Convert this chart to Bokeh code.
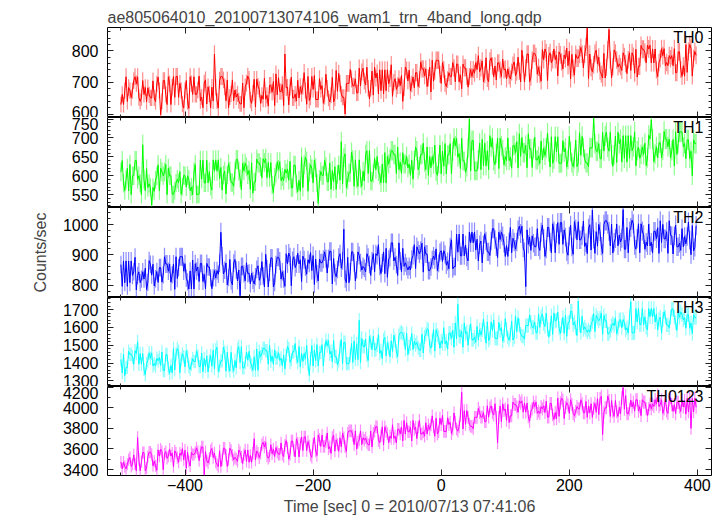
import numpy as np
from bokeh.plotting import figure
from bokeh.layouts import column
from bokeh.models import Range1d, SingleIntervalTicker, LinearAxis, Label, CustomJSTickFormatter
from bokeh.embed import file_html
from bokeh.resources import INLINE

title_text = "ae805064010_20100713074106_wam1_trn_4band_long.qdp"
x_label = "Time [sec] 0 = 2010/07/13 07:41:06"
y_label = "Counts/sec"

# time bins (sec), 2 s step
t_start, t_step, n_bins = -500, 2, 450
time = [t_start + t_step * i for i in range(n_bins)]

TH0 = [
 630, 662, 630, 674, 718, 640, 684, 674, 652, 674,
 706, 718, 696, 718, 652, 640, 652, 706, 662, 684,
 639, 683, 661, 651, 651, 705, 651, 639, 695, 717,
 674, 598, 640, 706, 706, 662, 630, 718, 696, 630,
 685, 719, 653, 719, 719, 653, 697, 675, 631, 619,
 674, 706, 640, 618, 718, 696, 662, 718, 662, 662,
 676, 720, 642, 654, 620, 698, 708, 632, 686, 664,
 619, 685, 641, 790, 685, 641, 619, 707, 719, 719,
 708, 686, 642, 708, 620, 654, 664, 708, 642, 676,
 654, 664, 642, 632, 632, 698, 620, 686, 698, 720,
 710, 644, 634, 666, 710, 622, 710, 688, 678, 634,
 659, 647, 713, 647, 659, 625, 691, 691, 669, 703,
 627, 727, 661, 715, 671, 671, 693, 627, 790, 683,
 685, 629, 685, 717, 651, 651, 663, 641, 707, 651,
 687, 665, 687, 731, 675, 631, 719, 643, 653, 719,
 678, 722, 646, 646, 646, 712, 678, 690, 634, 656,
 726, 682, 650, 638, 660, 716, 638, 650, 738, 672,
 729, 697, 663, 653, 653, 600, 697, 697, 697, 741,
 711, 689, 689, 711, 667, 667, 745, 689, 733, 745,
 704, 692, 748, 682, 648, 682, 736, 660, 748, 714,
 730, 664, 740, 674, 740, 664, 740, 674, 740, 696,
 712, 756, 656, 700, 712, 678, 690, 712, 690, 722,
 640, 683, 749, 739, 705, 739, 673, 695, 717, 683,
 731, 731, 687, 709, 765, 743, 743, 721, 743, 687,
 714, 748, 670, 770, 704, 736, 770, 770, 770, 726,
 697, 763, 741, 697, 687, 709, 731, 719, 719, 763,
 746, 702, 758, 758, 702, 724, 680, 758, 746, 746,
 719, 685, 719, 741, 719, 741, 729, 763, 741, 785,
 734, 746, 768, 702, 724, 778, 712, 702, 768, 778,
 752, 718, 752, 708, 762, 762, 740, 718, 774, 740,
 743, 711, 743, 721, 711, 733, 755, 765, 721, 733,
 780, 736, 702, 802, 758, 702, 746, 790, 790, 702,
 716, 770, 792, 792, 782, 726, 748, 726, 704, 804,
 772, 806, 794, 706, 784, 794, 762, 772, 806, 772,
 787, 721, 797, 787, 765, 743, 787, 775, 809, 753,
 799, 711, 789, 745, 723, 789, 777, 777, 789, 811,
 790, 746, 790, 812, 872, 712, 790, 746, 734, 756,
 792, 802, 758, 780, 736, 726, 714, 792, 714, 748,
 803, 868, 771, 715, 749, 803, 793, 771, 749, 759,
 750, 738, 794, 782, 760, 728, 772, 794, 738, 794,
 783, 729, 805, 717, 751, 751, 817, 805, 805, 795,
 762, 818, 806, 818, 762, 806, 762, 806, 740, 718,
 763, 775, 807, 785, 807, 753, 763, 753, 785, 775,
 785, 753, 807, 731, 731, 797, 797, 741, 719, 753,
 720, 820, 732, 798, 820, 808, 720, 776, 798, 786,
]

TH1 = [
 610, 640, 580, 560, 590, 620, 560, 630, 550, 600,
 600, 640, 640, 590, 600, 580, 550, 682, 590, 560,
 619, 569, 579, 569, 522, 569, 559, 589, 599, 629,
 560, 620, 610, 600, 610, 630, 550, 620, 600, 600,
 551, 551, 561, 581, 591, 581, 611, 551, 571, 601,
 600, 570, 600, 590, 560, 570, 550, 610, 630, 550,
 551, 551, 641, 591, 641, 581, 581, 641, 581, 611,
 572, 562, 642, 612, 642, 612, 642, 592, 622, 562,
 602, 612, 552, 602, 632, 612, 582, 582, 572, 612,
 643, 643, 613, 593, 563, 633, 613, 633, 623, 603,
 614, 564, 634, 554, 584, 584, 644, 634, 634, 624,
 595, 645, 635, 645, 595, 635, 595, 635, 575, 555,
 597, 607, 637, 617, 637, 587, 597, 587, 617, 607,
 618, 588, 638, 568, 568, 628, 628, 578, 558, 588,
 559, 649, 569, 629, 649, 639, 559, 609, 629, 619,
 581, 641, 621, 581, 527, 591, 611, 601, 601, 641,
 624, 584, 584, 634, 564, 614, 584, 624, 564, 604,
 628, 588, 690, 578, 648, 658, 568, 588, 608, 608,
 662, 642, 572, 642, 592, 572, 642, 592, 572, 612,
 586, 656, 666, 606, 666, 586, 586, 606, 646, 616,
 651, 611, 601, 581, 631, 581, 661, 581, 651, 631,
 646, 666, 666, 656, 656, 606, 676, 616, 636, 606,
 661, 631, 631, 651, 621, 631, 601, 641, 591, 641,
 676, 666, 616, 626, 656, 656, 686, 636, 616, 676,
 601, 651, 621, 651, 631, 681, 611, 601, 631, 681,
 605, 665, 625, 685, 605, 655, 655, 685, 605, 665,
 699, 679, 699, 649, 659, 619, 699, 639, 639, 609,
 623, 673, 750, 613, 693, 693, 613, 613, 613, 643,
 686, 616, 696, 626, 686, 626, 666, 616, 706, 676,
 699, 639, 629, 659, 699, 619, 699, 679, 669, 629,
 650, 640, 700, 640, 650, 620, 680, 680, 660, 690,
 621, 711, 651, 701, 661, 661, 681, 621, 711, 671,
 672, 622, 672, 702, 642, 642, 652, 632, 692, 642,
 673, 653, 673, 713, 663, 623, 703, 633, 643, 703,
 663, 703, 633, 633, 633, 693, 663, 673, 623, 643,
 704, 664, 634, 624, 644, 694, 624, 634, 714, 654,
 704, 674, 644, 634, 634, 624, 674, 674, 674, 752,
 685, 665, 665, 685, 645, 645, 715, 665, 705, 715,
 675, 665, 715, 655, 625, 655, 705, 635, 715, 685,
 696, 636, 706, 646, 706, 636, 706, 646, 706, 666,
 676, 716, 626, 666, 676, 646, 656, 676, 656, 686,
 627, 647, 707, 697, 748, 697, 637, 657, 677, 647,
 687, 687, 647, 667, 717, 697, 697, 677, 697, 647,
 666, 696, 626, 716, 656, 686, 716, 716, 716, 676,
 685, 645, 695, 695, 645, 665, 600, 695, 685, 685,
]

TH2 = [
 868, 796, 880, 808, 880, 796, 880, 808, 880, 832,
 844, 892, 784, 832, 844, 808, 820, 844, 820, 856,
 785, 809, 881, 869, 833, 869, 797, 821, 845, 809,
 858, 858, 810, 834, 894, 870, 870, 846, 870, 810,
 834, 870, 786, 894, 822, 858, 894, 894, 894, 846,
 871, 823, 811, 787, 847, 787, 883, 787, 871, 847,
 860, 812, 872, 872, 812, 836, 788, 872, 860, 860,
 824, 788, 824, 848, 824, 848, 836, 872, 975, 896,
 837, 849, 873, 801, 825, 885, 813, 801, 873, 885,
 850, 814, 850, 765, 862, 862, 838, 814, 874, 838,
 840, 804, 840, 816, 804, 828, 852, 864, 816, 828,
 878, 830, 794, 902, 854, 794, 842, 890, 890, 794,
 808, 868, 892, 892, 880, 820, 844, 820, 796, 904,
 870, 906, 894, 798, 882, 894, 858, 870, 906, 870,
 884, 812, 896, 884, 860, 836, 884, 872, 908, 848,
 898, 802, 886, 838, 814, 886, 874, 874, 886, 910,
 888, 840, 888, 912, 912, 804, 888, 840, 828, 852,
 892, 904, 856, 880, 985, 820, 808, 892, 808, 844,
 910, 910, 874, 814, 850, 910, 898, 874, 850, 862,
 856, 844, 904, 892, 868, 832, 880, 904, 844, 904,
 898, 934, 862, 838, 874, 910, 838, 922, 826, 886,
 892, 940, 940, 880, 892, 868, 832, 940, 880, 844,
 922, 862, 874, 862, 850, 862, 850, 886, 898, 934,
 855, 927, 915, 903, 915, 939, 843, 927, 903, 903,
 848, 848, 860, 884, 896, 884, 920, 848, 872, 908,
 914, 878, 914, 902, 866, 878, 854, 926, 950, 854,
 861, 861, 969, 909, 969, 897, 897, 969, 897, 933,
 892, 880, 976, 940, 976, 940, 976, 916, 952, 880,
 934, 946, 874, 934, 970, 946, 910, 910, 898, 946,
 987, 987, 951, 927, 891, 975, 951, 975, 963, 939,
 895, 931, 895, 943, 991, 907, 955, 943, 919, 943,
 983, 995, 971, 995, 923, 911, 795, 983, 935, 959,
 915, 963, 939, 927, 927, 987, 927, 915, 975, 999,
 955, 895, 919, 991, 991, 943, 907, 1003, 979, 907,
 971, 1007, 935, 1007, 1007, 935, 983, 959, 911, 899,
 962, 998, 926, 902, 1010, 986, 950, 1010, 950, 950,
 964, 1012, 928, 940, 904, 988, 1000, 916, 1048, 952,
 905, 977, 929, 1001, 977, 929, 905, 1001, 1013, 1013,
 1002, 978, 930, 1002, 906, 942, 954, 1002, 930, 966,
 943, 955, 1050, 919, 919, 991, 907, 979, 991, 1015,
 1003, 931, 919, 955, 1003, 907, 1003, 979, 967, 919,
 942, 930, 1002, 930, 942, 906, 978, 978, 954, 990,
 905, 1013, 941, 1001, 953, 953, 977, 905, 1013, 965,
 963, 903, 963, 999, 927, 927, 939, 915, 987, 927,
 961, 937, 961, 1009, 949, 901, 997, 913, 925, 997,
]

TH3 = [
 1419, 1345, 1449, 1329, 1375, 1375, 1465, 1449, 1449, 1435,
 1393, 1469, 1453, 1520, 1393, 1453, 1393, 1453, 1363, 1333,
 1397, 1413, 1457, 1427, 1457, 1383, 1397, 1383, 1427, 1413,
 1431, 1387, 1461, 1357, 1357, 1447, 1447, 1371, 1341, 1387,
 1345, 1481, 1361, 1451, 1481, 1465, 1345, 1421, 1451, 1435,
 1378, 1468, 1438, 1378, 1364, 1394, 1424, 1408, 1408, 1468,
 1440, 1380, 1380, 1456, 1350, 1426, 1380, 1440, 1350, 1410,
 1442, 1382, 1472, 1368, 1472, 1488, 1352, 1382, 1412, 1412,
 1490, 1460, 1354, 1460, 1384, 1354, 1460, 1384, 1354, 1414,
 1372, 1476, 1492, 1402, 1492, 1372, 1372, 1402, 1462, 1416,
 1465, 1405, 1389, 1359, 1435, 1359, 1479, 1359, 1465, 1435,
 1453, 1483, 1483, 1469, 1469, 1393, 1499, 1409, 1439, 1393,
 1474, 1428, 1428, 1458, 1414, 1428, 1384, 1444, 1368, 1444,
 1493, 1479, 1403, 1419, 1463, 1463, 1509, 1433, 1403, 1493,
 1378, 1454, 1408, 1454, 1424, 1498, 1394, 1330, 1424, 1498,
 1383, 1473, 1413, 1503, 1383, 1459, 1459, 1503, 1383, 1473,
 1526, 1496, 1526, 1450, 1466, 1406, 1526, 1436, 1436, 1390,
 1412, 1486, 1532, 1396, 1516, 1516, 1396, 1396, 1396, 1442,
 1509, 1403, 1523, 1419, 1509, 1419, 1640, 1403, 1539, 1493,
 1490, 1534, 1444, 1414, 1550, 1520, 1474, 1550, 1474, 1474,
 1500, 1560, 1454, 1470, 1424, 1530, 1544, 1440, 1514, 1484,
 1435, 1525, 1465, 1555, 1525, 1465, 1435, 1555, 1571, 1571,
 1566, 1536, 1476, 1566, 1446, 1492, 1506, 1566, 1476, 1522,
 1502, 1516, 1486, 1472, 1472, 1562, 1456, 1546, 1562, 1592,
 1587, 1497, 1483, 1527, 1587, 1467, 1587, 1557, 1543, 1483,
 1524, 1508, 1598, 1508, 1524, 1478, 1568, 1568, 1538, 1584,
 1489, 1625, 1535, 1730, 1549, 1549, 1579, 1489, 1625, 1565,
 1576, 1500, 1576, 1620, 1530, 1530, 1546, 1516, 1606, 1530,
 1587, 1557, 1587, 1647, 1571, 1511, 1631, 1527, 1541, 1631,
 1582, 1642, 1538, 1538, 1538, 1628, 1582, 1598, 1522, 1552,
 1649, 1589, 1545, 1529, 1559, 1635, 1529, 1545, 1665, 1575,
 1654, 1610, 1564, 1550, 1550, 1534, 1610, 1610, 1610, 1670,
 1630, 1600, 1600, 1630, 1570, 1570, 1676, 1600, 1660, 1676,
 1621, 1605, 1681, 1591, 1545, 1591, 1665, 1561, 1681, 1635,
 1640, 1686, 1596, 1566, 1610, 1656, 1566, 1670, 1550, 1626,
 1630, 1690, 1690, 1614, 1630, 1600, 1554, 1748, 1614, 1570,
 1663, 1587, 1603, 1587, 1573, 1587, 1573, 1617, 1633, 1677,
 1577, 1667, 1651, 1637, 1651, 1681, 1561, 1667, 1637, 1637,
 1564, 1564, 1580, 1610, 1624, 1610, 1654, 1564, 1594, 1640,
 1644, 1598, 1644, 1628, 1584, 1598, 1568, 1658, 1745, 1568,
 1570, 1570, 1706, 1630, 1706, 1616, 1616, 1706, 1616, 1660,
 1600, 1586, 1706, 1660, 1706, 1660, 1706, 1630, 1676, 1586,
 1644, 1658, 1568, 1644, 1688, 1658, 1614, 1614, 1598, 1658,
 1703, 1703, 1657, 1627, 1583, 1687, 1657, 1687, 1673, 1643,
 1655, 1595, 1671, 1671, 1595, 1625, 1565, 1671, 1655, 1655,
]

TH0123 = [
 3474, 3408, 3474, 3430, 3408, 3452, 3496, 3518, 3430, 3452,
 3543, 3455, 3389, 3710, 3499, 3389, 3477, 3565, 3565, 3389,
 3415, 3525, 3569, 3569, 3547, 3437, 3481, 3437, 3393, 3591,
 3531, 3597, 3575, 3399, 3553, 3575, 3509, 3531, 3597, 3531,
 3560, 3428, 3582, 3560, 3516, 3472, 3560, 3538, 3604, 3494,
 3589, 3413, 3567, 3479, 3435, 3567, 3545, 3545, 3567, 3611,
 3575, 3487, 3575, 3619, 3619, 3350, 3575, 3487, 3465, 3509,
 3583, 3605, 3517, 3561, 3473, 3451, 3429, 3583, 3429, 3495,
 3607, 3607, 3541, 3431, 3497, 3607, 3585, 3541, 3497, 3519,
 3502, 3480, 3590, 3568, 3524, 3458, 3546, 3590, 3480, 3590,
 3471, 3537, 3471, 3559, 3700, 3493, 3581, 3559, 3515, 3559,
 3642, 3664, 3620, 3664, 3532, 3510, 3532, 3642, 3554, 3598,
 3527, 3615, 3571, 3549, 3549, 3659, 3549, 3527, 3637, 3681,
 3611, 3501, 3545, 3677, 3677, 3589, 3523, 3699, 3655, 3523,
 3651, 3717, 3585, 3717, 3717, 3585, 3673, 3629, 3541, 3519,
 3647, 3713, 3581, 3537, 3735, 3691, 3625, 3735, 3625, 3625,
 3667, 3755, 3601, 3623, 3557, 3711, 3733, 3579, 3689, 3645,
 3577, 3709, 3621, 3753, 3709, 3621, 3577, 3753, 3775, 3775,
 3775, 3731, 3643, 3775, 3599, 3665, 3687, 3775, 3643, 3709,
 3685, 3707, 3663, 3641, 3641, 3773, 3619, 3751, 3773, 3817,
 3815, 3683, 3661, 3727, 3815, 3639, 3815, 3771, 3749, 3661,
 3725, 3703, 3835, 3703, 3725, 3659, 3791, 3791, 3747, 3813,
 3679, 3877, 3745, 3855, 3767, 3767, 3811, 3679, 3877, 3789,
 3811, 3701, 3811, 3877, 3745, 3745, 3767, 3723, 3855, 3745,
 3833, 3789, 3833, 3921, 3811, 3723, 3899, 3745, 3767, 3899,
 3837, 3925, 3771, 3771, 3771, 3903, 3837, 3859, 3749, 3793,
 3949, 3861, 3795, 3773, 3817, 3927, 4150, 3795, 3971, 3839,
 3973, 3907, 3841, 3819, 3819, 3797, 3907, 3907, 3907, 3995,
 3953, 3909, 3909, 3953, 3865, 3865, 4019, 3909, 3997, 4019,
 3951, 3929, 4039, 3907, 3660, 3907, 4017, 3863, 4039, 3973,
 3988, 3878, 4032, 3856, 3922, 3922, 4054, 4032, 4032, 4010,
 3957, 4067, 4045, 4067, 3957, 4045, 3957, 4045, 3913, 3869,
 3967, 3989, 4055, 4011, 4055, 3945, 3967, 3945, 4011, 3989,
 4019, 3953, 4063, 3909, 3909, 4041, 4041, 3931, 3887, 3953,
 3895, 4093, 3917, 4049, 4093, 4071, 3895, 4005, 4049, 4027,
 3945, 4077, 4033, 3945, 3923, 3967, 4011, 3989, 3989, 4077,
 4039, 3951, 3951, 4061, 3907, 4017, 3951, 4039, 3907, 3995,
 4044, 3956, 4088, 3934, 4088, 4110, 3740, 3956, 4000, 4000,
 4114, 4070, 3916, 4070, 3960, 3916, 4070, 3960, 3916, 4004,
 3942, 4096, 4195, 3986, 4118, 3942, 3942, 3986, 4074, 4008,
 4055, 3967, 4077, 4077, 3967, 4011, 3923, 4077, 4055, 4055,
 3991, 3925, 3991, 4035, 3991, 4035, 4013, 4079, 4035, 4123,
 4011, 4033, 4077, 3945, 3989, 4099, 3967, 3945, 4077, 4099,
 4030, 3964, 4030, 3942, 4052, 4052, 4008, 3964, 4074, 4008,
 4070, 3938, 4092, 3960, 4092, 3800, 4092, 3960, 4092, 4004,
]

panel_names = ["TH0", "TH1", "TH2", "TH3", "TH0123"]
panel_values = [TH0, TH1, TH2, TH3, TH0123]
panel_colors = ["#ff0000", "#00ff00", "#0000ff", "#00ffff", "#ff00ff"]
panel_ylims = [(589, 874), (516, 754), (759, 1057), (1268, 1768), (3343, 4206)]
panel_major = [100, 50, 100, 100, 200]
panel_minor = [5, 5, 5, 5, 2]
panel_heights = [90, 90, 90, 89, 89]
x_lims = (-521, 422)

FONT = "Liberation Sans"
FS = "16px"
TICK_COLOR = "#222222"

minus_fmt = CustomJSTickFormatter(code="return tick < 0 ? '\\u2212' + Math.abs(tick) : String(tick);")

xr = Range1d(*x_lims)
figs = []
n_p = len(panel_names)


def style(ax, labels):
    ax.axis_line_color = None
    ax.major_tick_in = 6
    ax.major_tick_out = 0
    ax.minor_tick_in = 3
    ax.minor_tick_out = 0
    ax.major_tick_line_color = TICK_COLOR
    ax.minor_tick_line_color = TICK_COLOR
    if labels:
        ax.major_label_text_font = FONT
        ax.major_label_text_font_size = FS
        ax.major_label_text_color = "black"
        ax.major_label_standoff = 9
    else:
        ax.major_label_text_font_size = "0px"
        ax.major_label_standoff = 0


for i in range(n_p):
    first = i == 0
    last = i == n_p - 1
    lo, hi = panel_ylims[i]
    p = figure(frame_width=604, frame_height=panel_heights[i], x_range=xr, y_range=Range1d(lo, hi),
               output_backend="svg", toolbar_location=None,
               min_border_left=107, min_border_right=4,
               min_border_top=27 if first else 0, min_border_bottom=0,
               title=title_text if first else None)
    p.background_fill_color = "white"
    p.border_fill_color = "white"
    p.outline_line_color = "black"
    p.outline_line_width = 1
    p.grid.grid_line_color = None
    if first:
        p.title.text_font = FONT
        p.title.text_font_size = FS
        p.title.text_font_style = "normal"
        p.title.standoff = 4
        p.title.align = "left"
        p.title.offset = 0

    yl = p.yaxis[0]
    yl.ticker = SingleIntervalTicker(interval=panel_major[i], num_minor_ticks=panel_minor[i])
    style(yl, True)
    if i == 2:
        yl.axis_label = y_label
        yl.axis_label_text_font = FONT
        yl.axis_label_text_font_size = FS
        yl.axis_label_text_font_style = "normal"
        yl.axis_label_standoff = 11

    xb = p.xaxis[0]
    xb.ticker = SingleIntervalTicker(interval=200, num_minor_ticks=2)
    style(xb, last)
    if last:
        xb.formatter = minus_fmt
        xb.major_label_standoff = 3
        xb.axis_label = x_label
        xb.axis_label_text_font = FONT
        xb.axis_label_text_font_size = FS
        xb.axis_label_text_font_style = "normal"
        xb.axis_label_standoff = 4

    yr_ax = LinearAxis(ticker=SingleIntervalTicker(interval=panel_major[i], num_minor_ticks=panel_minor[i]))
    style(yr_ax, False)
    p.add_layout(yr_ax, "right")
    xa = LinearAxis(ticker=SingleIntervalTicker(interval=200, num_minor_ticks=2))
    style(xa, False)
    p.add_layout(xa, "above")

    vals = np.array(panel_values[i], dtype=float)
    err = np.sqrt(vals)
    p.segment(x0=time, y0=vals - err, x1=time, y1=vals + err,
              line_color=panel_colors[i], line_alpha=0.45, line_width=1.2)
    p.line(time, vals, line_color=panel_colors[i], line_width=1)

    p.add_layout(Label(x=x_lims[1], y=hi, x_offset=-8, y_offset=-1, text=panel_names[i],
                       text_align="right", text_baseline="top",
                       text_font=FONT, text_font_size=FS, text_color="black"))
    figs.append(p)

layout = column(*figs)
open("out.html", "w").write(file_html(layout, INLINE))
